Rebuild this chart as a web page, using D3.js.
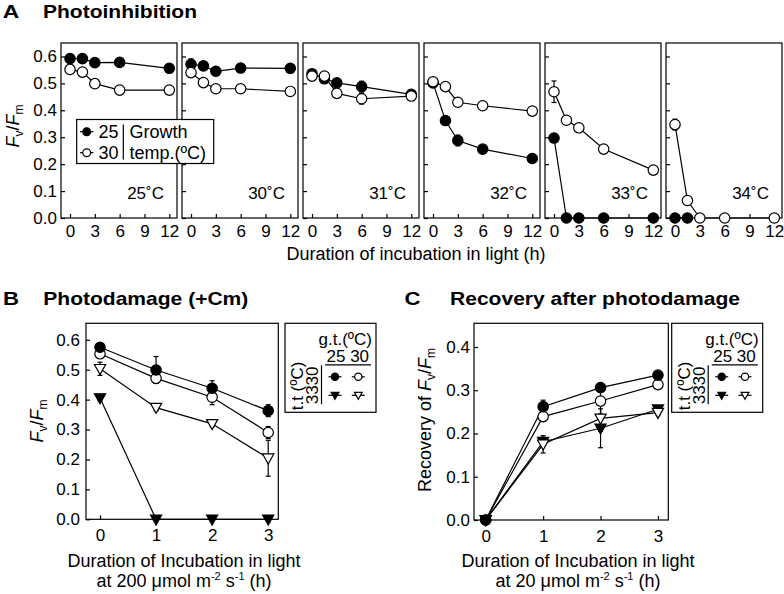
<!DOCTYPE html>
<html><head><meta charset="utf-8">
<script src="https://cdn.jsdelivr.net/npm/d3@7"></script>
<style>
body{margin:0;background:#fff;}
svg{display:block;font-family:"Liberation Sans",Arial,sans-serif;}
</style></head>
<body><svg id="c" width="784" height="594"></svg>
<script>
// ---------- DATA ----------
const panelATemps = ["25˚C","30˚C","31˚C","32˚C","33˚C","34˚C"];
const timesA = [0, 1.5, 3, 6, 12];
const ticksA = [0, 3, 6, 9, 12];
const yTicksA = [0, 0.1, 0.2, 0.3, 0.4, 0.5, 0.6];
// Fv/Fm, growth temp 25 (filled) per panel
const grow25 = [
  [0.592, 0.592, 0.577, 0.578, 0.556],
  [0.571, 0.565, 0.545, 0.557, 0.556],
  [0.536, 0.517, 0.502, 0.488, 0.459],
  [0.502, 0.362, 0.288, 0.256, 0.221],
  [0.297, 0, 0, 0, 0],
  [0, 0]
];
const grow25Err = [
  [0.008, 0.008, 0.015, 0.01, 0.008],
  [0.02, 0.01, 0.01, 0.008, 0.01],
  [0.01, 0.01, 0.01, 0.02, 0.01],
  [0.01, 0.01, 0.02, 0.01, 0.015],
  [0.01, 0, 0, 0, 0],
  [0, 0]
];
// growth temp 30 (open)
const grow30 = [
  [0.552, 0.542, 0.499, 0.475, 0.475],
  [0.540, 0.503, 0.480, 0.480, 0.470],
  [0.527, 0.527, 0.463, 0.443, 0.453],
  [0.506, 0.488, 0.430, 0.417, 0.397],
  [0.469, 0.363, 0.335, 0.256, 0.178],
  [0.347, 0.065, 0, 0, 0]
];
const grow30Err = [
  [0.01, 0.01, 0.01, 0.008, 0.008],
  [0.01, 0.01, 0.008, 0.008, 0.008],
  [0.01, 0.01, 0.01, 0.02, 0.01],
  [0.01, 0.01, 0.01, 0.01, 0.008],
  [0.04, 0.015, 0.01, 0.015, 0.008],
  [0.02, 0.01, 0, 0, 0]
];

const timesBC = [0, 1, 2, 3];
const yTicksB = [0, 0.1, 0.2, 0.3, 0.4, 0.5, 0.6];
const yTicksC = [0, 0.1, 0.2, 0.3, 0.4];
// Panel B (photodamage +Cm)
const b25tt30 = [0.575, 0.499, 0.438, 0.363];
const b25tt30Err = [0.01, 0.045, 0.025, 0.02];
const b30tt30 = [0.553, 0.471, 0.408, 0.290];
const b30tt30Err = [0.01, 0.015, 0.025, 0.02];
const b25tt33 = [0.405, 0, 0, 0];
const b25tt33Err = [0.01, 0, 0, 0];
const b30tt33 = [0.503, 0.373, 0.319, 0.204];
const b30tt33Err = [0.022, 0.01, 0.01, 0.06];
// Panel C (recovery)
const c25tt30 = [0, 0.262, 0.306, 0.335];
const c25tt30Err = [0.005, 0.015, 0.01, 0.008];
const c30tt30 = [0, 0.239, 0.275, 0.313];
const c30tt30Err = [0.005, 0.01, 0.03, 0.005];
const c25tt33 = [0, 0.181, 0.212, 0.256];
const c25tt33Err = [0.005, 0.01, 0.045, 0.005];
const c30tt33 = [0, 0.175, 0.235, 0.248];
const c30tt33Err = [0.005, 0.02, 0.03, 0.005];

// ---------- DRAWING ----------
const svg = d3.select("#c");
const SW = 1.2;

function marker(g, shape, filled, x, y, s) {
  s = s || 1;
  const fill = filled ? "#000" : "#fff";
  if (shape === "circle") {
    g.append("circle").attr("cx", x).attr("cy", y).attr("r", 5.2 * s)
      .attr("fill", fill).attr("stroke", "#000").attr("stroke-width", SW);
  } else {
    const w = 5.6 * s, t = 4.3 * s, b = 5.7 * s;
    g.append("path").attr("d", `M${x - w},${y - t}L${x + w},${y - t}L${x},${y + b}Z`)
      .attr("fill", fill).attr("stroke", "#000").attr("stroke-width", SW).attr("stroke-linejoin", "miter");
  }
}

function series(g, xs, ys, errs, x, y) {
  const pts = ys.map((v, i) => [xs[i], v, errs[i]]);
  pts.forEach(p => {
    if (p[2] > 0) {
      const cx = x(p[0]);
      g.append("line").attr("x1", cx).attr("x2", cx).attr("y1", y(p[1] - p[2])).attr("y2", y(p[1] + p[2]))
        .attr("stroke", "#000").attr("stroke-width", SW);
      [p[1] - p[2], p[1] + p[2]].forEach(v => g.append("line").attr("x1", cx - 2.5).attr("x2", cx + 2.5)
        .attr("y1", y(v)).attr("y2", y(v)).attr("stroke", "#000").attr("stroke-width", SW));
    }
  });
  g.append("path").datum(pts)
    .attr("d", d3.line().x(p => x(p[0])).y(p => y(p[1])))
    .attr("fill", "none").attr("stroke", "#000").attr("stroke-width", SW);
}
function seriesMarkers(g, xs, ys, x, y, shape, filled) {
  ys.forEach((v, i) => marker(g, shape, filled, x(xs[i]), y(v)));
}

function frame(g, x0, y0, w, h) {
  g.append("rect").attr("x", x0).attr("y", y0).attr("width", w).attr("height", h)
    .attr("fill", "none").attr("stroke", "#000").attr("stroke-width", SW);
}

function fvfm(t, prefix) {
  if (prefix) t.append("tspan").text(prefix);
  t.append("tspan").attr("font-style", "italic").text("F");
  t.append("tspan").attr("font-size", 12).attr("dy", 4).text("v");
  t.append("tspan").attr("dy", -4).text("/");
  t.append("tspan").attr("font-style", "italic").text("F");
  t.append("tspan").attr("font-size", 12).attr("dy", 4).text("m");
}

function styleAxis(ga) {
  ga.select(".domain").remove();
  ga.selectAll("line").attr("stroke-width", SW);
  ga.selectAll("text").attr("font-size", 17).attr("font-family", "Liberation Sans, Arial").attr("fill", "#000");
}

// ---------- Panel A ----------
const aTop = 43, aBot = 218, aW = 116;
const yA = d3.scaleLinear().domain([0, 0.65]).range([aBot, aTop]);
panelATemps.forEach((lab, k) => {
  const left = 61 + k * 121;
  const g = svg.append("g");
  const x = d3.scaleLinear().domain([-1.09, 12.93]).range([left, left + aW]);
  const xa = d3.axisBottom(x).tickValues(ticksA).tickSizeInner(-4).tickSizeOuter(0).tickPadding(7).tickFormat(d3.format("d"));
  styleAxis(g.append("g").attr("transform", `translate(0,${aBot})`).call(xa));
  const ya = d3.axisLeft(yA).tickValues(yTicksA).tickSizeInner(-4).tickSizeOuter(0).tickPadding(4).tickFormat(d3.format(".1f"));
  const gy = g.append("g").attr("transform", `translate(${left},0)`).call(ya);
  styleAxis(gy);
  if (k > 0) gy.selectAll("text").remove();
  frame(g, left, aTop, aW, aBot - aTop);
  const xs25 = timesA.slice(0, grow25[k].length);
  series(g, xs25, grow25[k], grow25Err[k], x, yA);
  series(g, timesA, grow30[k], grow30Err[k], x, yA);
  seriesMarkers(g, xs25, grow25[k], x, yA, "circle", true);
  seriesMarkers(g, timesA, grow30[k], x, yA, "circle", false);
  g.append("text").attr("x", left + aW - 13).attr("y", 199).attr("text-anchor", "end")
    .attr("font-size", 17).text(lab);
});
// Panel A legend
(function () {
  const g = svg.append("g");
  g.append("rect").attr("x", 76.7).attr("y", 119.5).attr("width", 137).attr("height", 44)
    .attr("fill", "#fff").attr("stroke", "#000").attr("stroke-width", SW);
  [[131.7, true, "25"], [152.7, false, "30"]].forEach(r => {
    g.append("line").attr("x1", 80).attr("x2", 93.5).attr("y1", r[0]).attr("y2", r[0]).attr("stroke", "#000").attr("stroke-width", SW);
    marker(g, "circle", r[1], 86.7, r[0], 0.75);
    g.append("text").attr("x", 98.5).attr("y", r[0] + 6.5).attr("font-size", 18).text(r[2]);
  });
  g.append("line").attr("x1", 123.3).attr("x2", 123.3).attr("y1", 124.5).attr("y2", 159.5).attr("stroke", "#000").attr("stroke-width", SW);
  g.append("text").attr("x", 129.5).attr("y", 138.3).attr("font-size", 18).text("Growth");
  g.append("text").attr("x", 129.5).attr("y", 158.5).attr("font-size", 18).text("temp.(ºC)");
})();
// Panel A labels
fvfm(svg.append("text").attr("transform", "translate(19,126) rotate(-90)").attr("text-anchor", "middle").attr("font-size", 18));
svg.append("text").attr("x", 416).attr("y", 260).attr("text-anchor", "middle").attr("font-size", 18)
  .text("Duration of incubation in light (h)");
svg.append("text").attr("x", 2.7).attr("y", 17.5).attr("font-size", 19).attr("font-weight", "bold")
  .attr("textLength", 16.5).attr("lengthAdjust", "spacingAndGlyphs").text("A");
svg.append("text").attr("x", 43).attr("y", 17.5).attr("font-size", 19).attr("font-weight", "bold")
  .attr("textLength", 154).attr("lengthAdjust", "spacingAndGlyphs").text("Photoinhibition");

// ---------- Panels B & C ----------
function bcPanel(opt) {
  const g = svg.append("g");
  const x = d3.scaleLinear().domain(opt.xDom).range([opt.left, opt.right]);
  const y = d3.scaleLinear().domain(opt.yDom).range([opt.bot, opt.top]);
  const xa = d3.axisBottom(x).tickValues(timesBC).tickSizeInner(-4).tickSizeOuter(0).tickPadding(10).tickFormat(d3.format("d"));
  styleAxis(g.append("g").attr("transform", `translate(0,${opt.bot})`).call(xa));
  const ya = d3.axisLeft(y).tickValues(opt.yTicks).tickSizeInner(-4).tickSizeOuter(0).tickPadding(opt.yPad).tickFormat(d3.format(".1f"));
  styleAxis(g.append("g").attr("transform", `translate(${opt.left},0)`).call(ya));
  frame(g, opt.left, opt.top, opt.right - opt.left, opt.bot - opt.top);
  opt.series.forEach(s => series(g, timesBC, s.v, s.e, x, y));
  opt.series.forEach(s => seriesMarkers(g, timesBC, s.v, x, y, s.shape, s.filled));
  // legend
  const L = opt.legX, T = opt.legY;
  const lg = svg.append("g");
  lg.append("rect").attr("x", L).attr("y", T).attr("width", 91).attr("height", 89)
    .attr("fill", "#fff").attr("stroke", "#000").attr("stroke-width", SW);
  lg.append("text").attr("x", L + 87).attr("y", T + 21.5).attr("text-anchor", "end").attr("font-size", 17).text("g.t.(ºC)");
  lg.append("text").attr("x", L + 41.5).attr("y", T + 39).attr("font-size", 17).text("25 30");
  lg.append("line").attr("x1", L + 40).attr("x2", L + 86).attr("y1", T + 41.5).attr("y2", T + 41.5).attr("stroke", "#000").attr("stroke-width", SW);
  lg.append("text").attr("transform", `translate(${L + 18},${T + 87}) rotate(-90)`).attr("font-size", 17).text("t.t (ºC)");
  lg.append("text").attr("transform", `translate(${L + 33},${T + 81}) rotate(-90)`).attr("font-size", 17).text("3330");
  lg.append("line").attr("x1", L + 36.5).attr("x2", L + 36.5).attr("y1", T + 42).attr("y2", T + 81).attr("stroke", "#000").attr("stroke-width", SW);
  [[T + 53.5, "circle"], [T + 72, "tri"]].forEach(r => {
    [[L + 50, true], [L + 73.3, false]].forEach(c => {
      lg.append("line").attr("x1", c[0] - 6.5).attr("x2", c[0] + 6.5).attr("y1", r[0]).attr("y2", r[0]).attr("stroke", "#000").attr("stroke-width", SW);
      marker(lg, r[1], c[1], c[0], r[0], 0.7);
    });
  });
  // axis titles
  svg.append("text").attr("x", opt.xlabX).attr("y", 566.5).attr("text-anchor", "middle").attr("font-size", 18)
    .text("Duration of Incubation in light");
  const t2 = svg.append("text").attr("x", opt.xlabX).attr("y", 586.5).attr("text-anchor", "middle").attr("font-size", 18);
  t2.append("tspan").text(`at ${opt.irr} μmol m`);
  t2.append("tspan").attr("font-size", 11).attr("dy", -7).text("-2");
  t2.append("tspan").attr("dy", 7).text(" s");
  t2.append("tspan").attr("font-size", 11).attr("dy", -7).text("-1");
  t2.append("tspan").attr("dy", 7).text(" (h)");
  fvfm(svg.append("text").attr("transform", `translate(${opt.ylabX},${opt.ylabY}) rotate(-90)`).attr("text-anchor", "middle").attr("font-size", 18), opt.yPrefix);
  // title
  svg.append("text").attr("x", opt.letterX).attr("y", 305).attr("font-size", 19).attr("font-weight", "bold")
    .attr("textLength", 16).attr("lengthAdjust", "spacingAndGlyphs").text(opt.letter);
  svg.append("text").attr("x", opt.titleX).attr("y", 305).attr("font-size", 19).attr("font-weight", "bold")
    .attr("textLength", opt.titleW).attr("lengthAdjust", "spacingAndGlyphs").text(opt.title);
}

bcPanel({
  left: 86, right: 278.3, top: 323.3, bot: 519.3, xDom: [-0.25, 3.18], yDom: [0, 0.655], yTicks: yTicksB, yPad: 6,
  series: [
    {v: b25tt33, e: b25tt33Err, shape: "tri", filled: true},
    {v: b30tt33, e: b30tt33Err, shape: "tri", filled: false},
    {v: b30tt30, e: b30tt30Err, shape: "circle", filled: false},
    {v: b25tt30, e: b25tt30Err, shape: "circle", filled: true}
  ],
  legX: 285, legY: 323.3, irr: 200, xlabX: 184, ylabX: 43, ylabY: 421, yPrefix: null,
  letter: "B", letterX: 3, title: "Photodamage (+Cm)", titleX: 43.3, titleW: 205
});
bcPanel({
  left: 474, right: 668.3, top: 323.3, bot: 520, xDom: [-0.204, 3.18], yDom: [0, 0.4547], yTicks: yTicksC, yPad: 4,
  series: [
    {v: c25tt33, e: c25tt33Err, shape: "tri", filled: true},
    {v: c30tt33, e: c30tt33Err, shape: "tri", filled: false},
    {v: c30tt30, e: c30tt30Err, shape: "circle", filled: false},
    {v: c25tt30, e: c25tt30Err, shape: "circle", filled: true}
  ],
  legX: 671.7, legY: 323.3, irr: 20, xlabX: 578, ylabX: 431, ylabY: 420, yPrefix: "Recovery of ",
  letter: "C", letterX: 404.5, title: "Recovery after photodamage", titleX: 450, titleW: 290
});
</script></body></html>
